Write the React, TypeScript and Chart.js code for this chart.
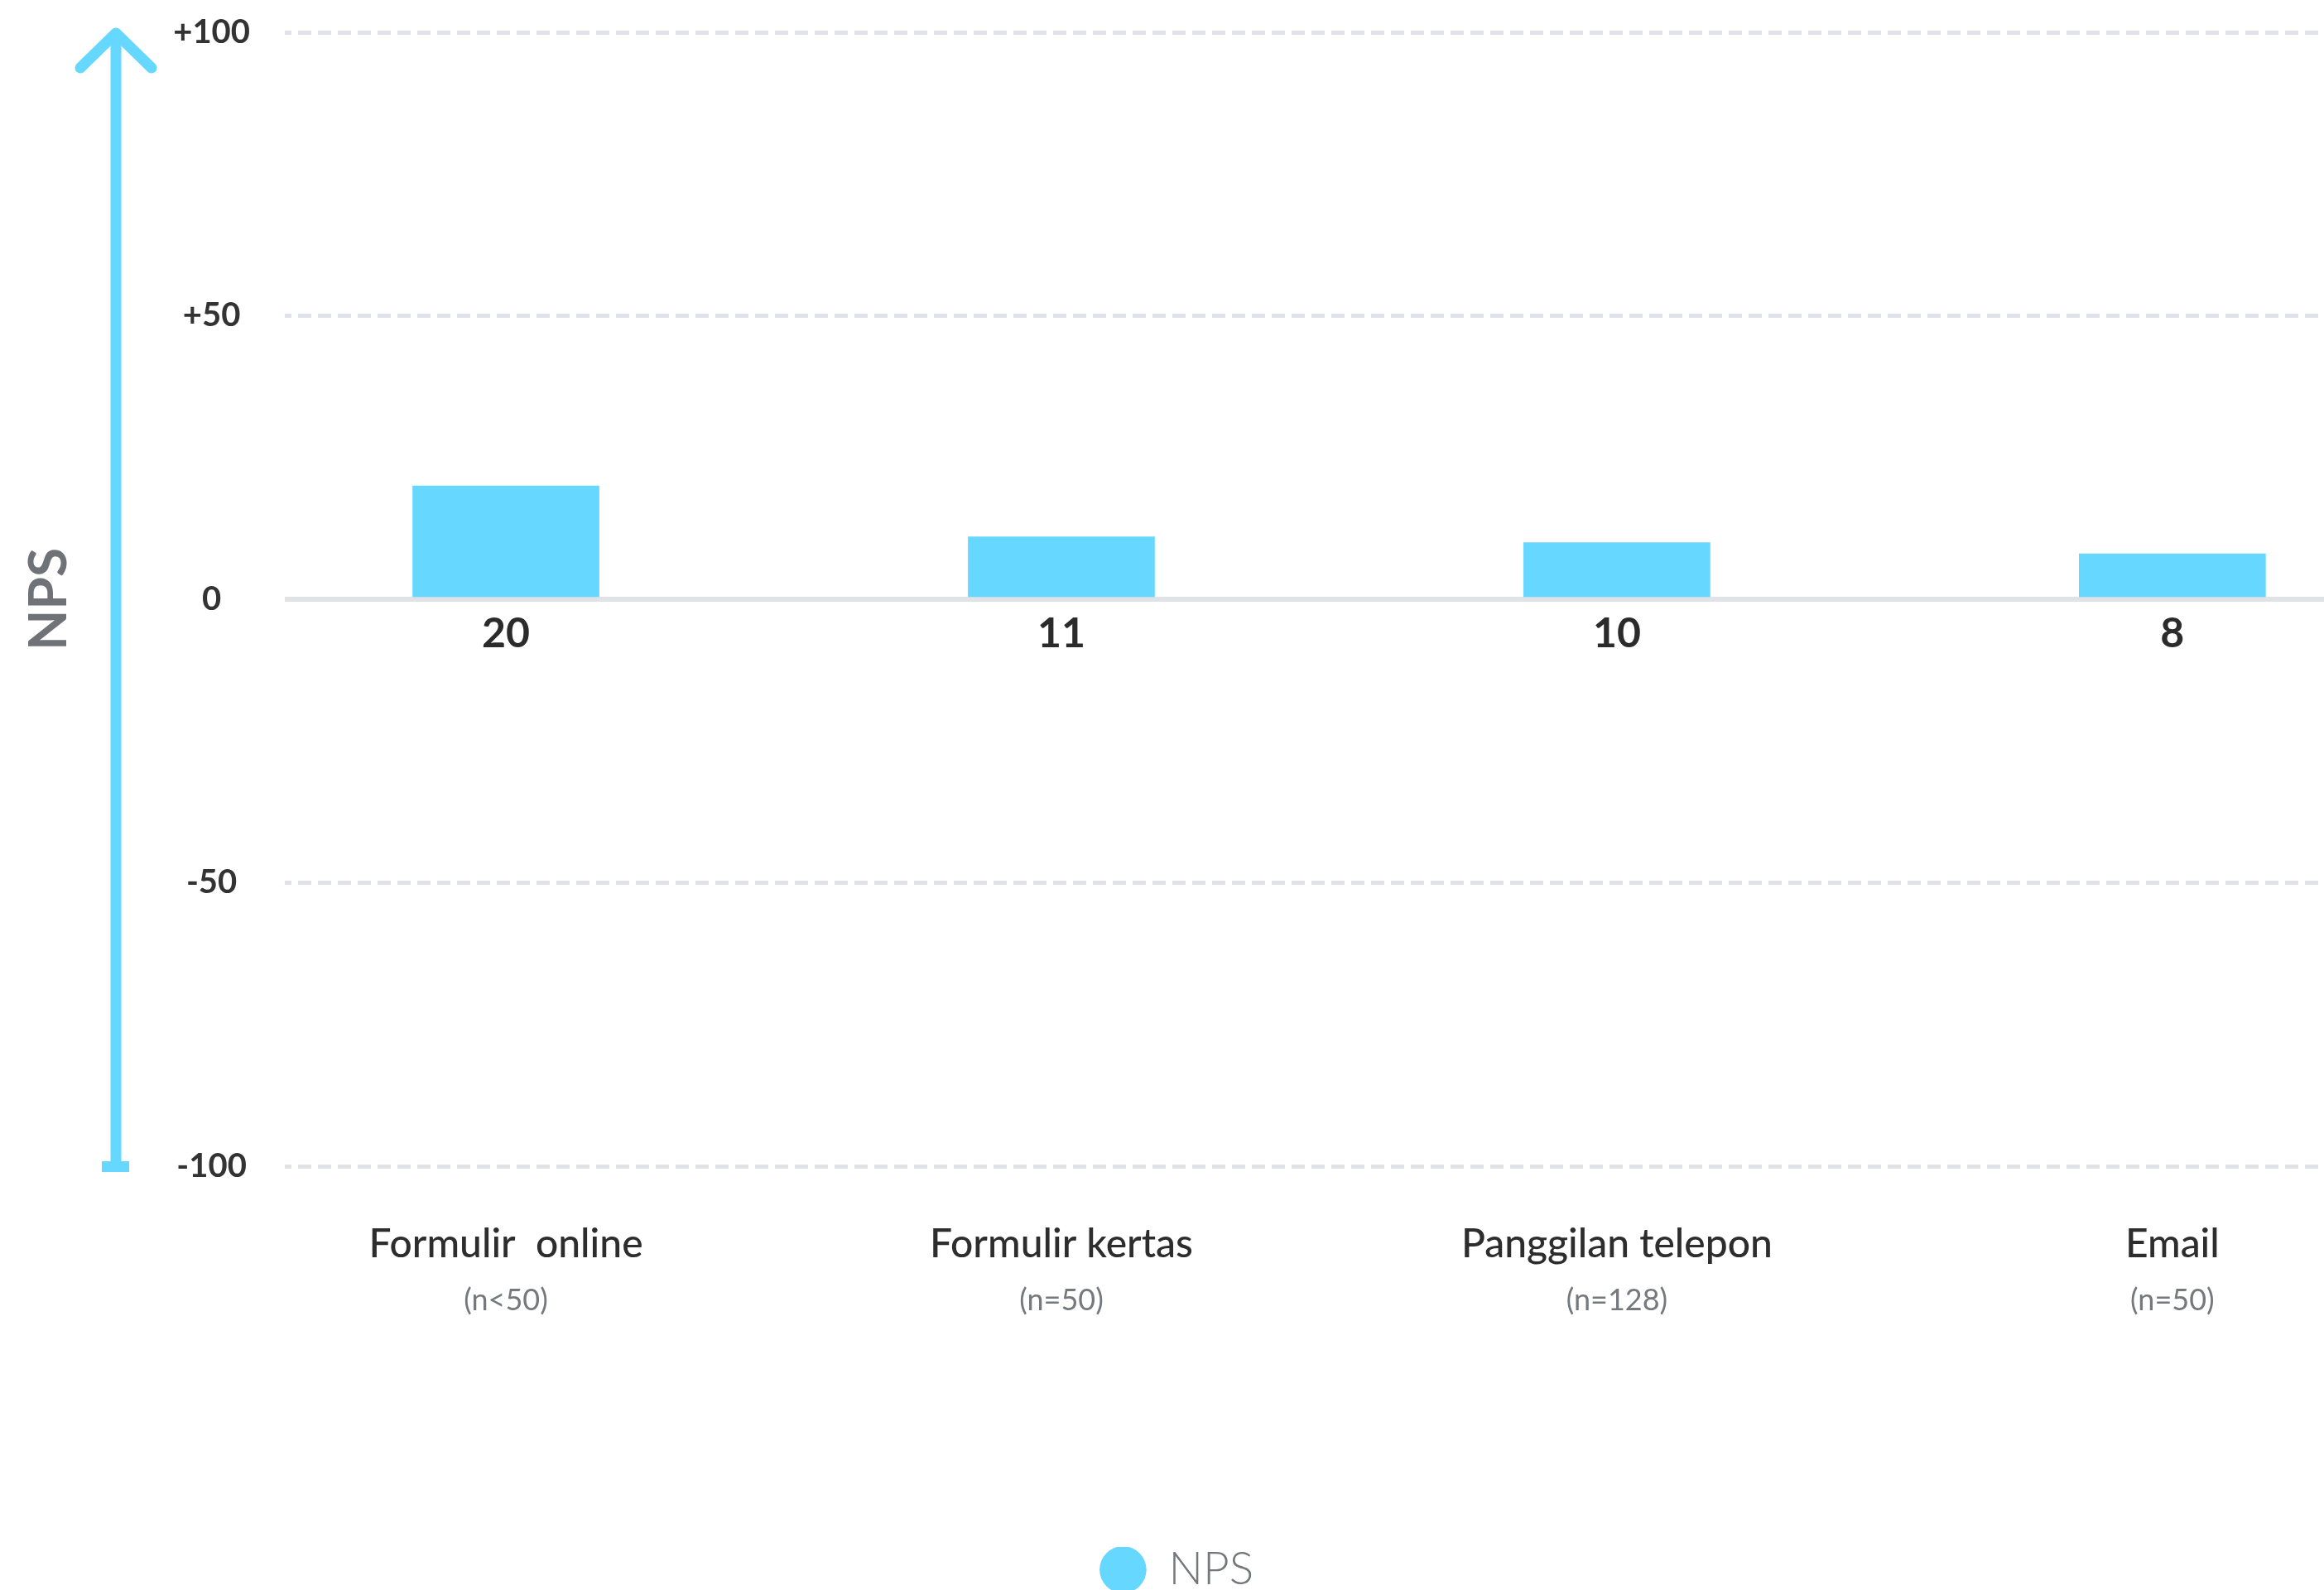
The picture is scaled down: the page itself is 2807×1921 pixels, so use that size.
import React, { useEffect, useRef } from "react";
import { Chart, registerables } from "chart.js";

Chart.register(...registerables);

// ---- Data ----
const CATEGORIES = ["Formulir  online", "Formulir kertas", "Panggilan telepon", "Email"];
const SAMPLE_SIZES = ["(n<50)", "(n=50)", "(n=128)", "(n=50)"];
const NPS_VALUES = [20, 11, 10, 8];
const Y_TICK_VALUES = [-100, -50, 0, 50, 100];
const Y_TICK_LABELS = ["-100", "-50", "0", "+50", "+100"];
const SERIES_LABEL = "NPS";

const BAR_COLOR = "#66d7ff";
const GRID_COLOR = "#dfe2e7";
const FONT = "Lato";

const arrowPlugin = {
  id: "npsArrow",
  beforeDatasetsDraw(chart: any) {
    const { ctx, chartArea } = chart;
    const yS = chart.scales.y;
    const top = yS.getPixelForValue(100);
    const bot = yS.getPixelForValue(-100);
    const ax = chartArea.left - 204;
    ctx.save();
    ctx.strokeStyle = BAR_COLOR;
    ctx.fillStyle = BAR_COLOR;
    ctx.lineWidth = 13;
    ctx.lineCap = "butt";
    ctx.beginPath();
    ctx.moveTo(ax, bot - 5);
    ctx.lineTo(ax, top + 4);
    ctx.stroke();
    ctx.lineCap = "round";
    ctx.lineJoin = "round";
    ctx.beginPath();
    ctx.moveTo(ax - 43, top + 43);
    ctx.lineTo(ax, top + 1);
    ctx.lineTo(ax + 43, top + 43);
    ctx.stroke();
    ctx.fillRect(ax - 17, bot - 6, 33, 13);
    ctx.restore();
  },
};

const valueLabelPlugin = {
  id: "valueLabels",
  afterDatasetsDraw(chart: any) {
    const { ctx } = chart;
    const yS = chart.scales.y;
    const zero = yS.getPixelForValue(0);
    const meta = chart.getDatasetMeta(0);
    const data = chart.data.datasets[0].data;
    ctx.save();
    ctx.font = `bold 50px ${FONT}`;
    ctx.fillStyle = "#2b2b2b";
    ctx.textAlign = "center";
    ctx.textBaseline = "alphabetic";
    meta.data.forEach((el: any, i: number) => {
      ctx.fillText(String(data[i].y), el.x, zero + 58);
    });
    ctx.restore();
  },
};

const X_MIN = -0.398;
const X_MAX = 3.273;

export default function App() {
  const ref = useRef<HTMLCanvasElement | null>(null);

  useEffect(() => {
    if (!ref.current) return;
    const tickSet = (s: any) => {
      s.ticks = CATEGORIES.map((_, i) => ({ value: i }));
    };
    const chart = new Chart(ref.current, {
      type: "bar",
      data: {
        datasets: [
          {
            label: SERIES_LABEL,
            data: NPS_VALUES.map((v, i) => ({ x: i, y: v })),
            backgroundColor: BAR_COLOR,
            borderWidth: 0,
            barThickness: 225,
          } as any,
        ],
      },
      options: {
        responsive: false,
        animation: false,
        devicePixelRatio: 1,
        layout: { padding: { top: 39, left: 36, right: 0, bottom: 0 } },
        plugins: {
          tooltip: { enabled: false },
          legend: {
            display: true,
            position: "bottom",
            labels: {
              usePointStyle: true,
              pointStyle: "circle",
              boxWidth: 55,
              boxHeight: 40,
              padding: 0,
              color: "#74777b",
              font: { family: FONT, size: 55, weight: "300" as any },
            },
          },
        },
        scales: {
          x: {
            type: "linear",
            position: "bottom",
            offset: false,
            weight: 0,
            min: X_MIN,
            max: X_MAX,
            afterBuildTicks: tickSet,
            afterFit: (s: any) => {
              s.height = 124;
            },
            grid: { display: false, drawTicks: false, offset: false },
            border: { display: false },
            ticks: {
              autoSkip: false,
              maxRotation: 0,
              minRotation: 0,
              padding: 66,
              color: "#2d2d2d",
              font: { family: FONT, size: 48, weight: "500" as any },
              callback: (v: any) => (Number.isInteger(v) ? CATEGORIES[v] : ""),
            },
          },
          xn: {
            type: "linear",
            axis: "x",
            position: "bottom",
            offset: false,
            weight: 1,
            min: X_MIN,
            max: X_MAX,
            afterBuildTicks: tickSet,
            afterFit: (s: any) => {
              s.height = 336;
            },
            grid: { display: false, drawTicks: false, offset: false },
            border: { display: false },
            ticks: {
              autoSkip: false,
              maxRotation: 0,
              minRotation: 0,
              padding: 17,
              color: "#75797e",
              font: { family: FONT, size: 36 },
              callback: (v: any) => (Number.isInteger(v) ? SAMPLE_SIZES[v] : ""),
            },
          } as any,
          y: {
            type: "linear",
            min: -100,
            max: 100,
            afterBuildTicks: (s: any) => {
              s.ticks = Y_TICK_VALUES.map((v) => ({ value: v }));
            },
            afterFit: (s: any) => {
              s.width = 308;
            },
            grid: {
              drawTicks: true,
              tickLength: 42,
              tickColor: "rgba(0,0,0,0)",
              color: GRID_COLOR,
              lineWidth: (c: any) => (c.tick && c.tick.value === 0 ? 6 : 5),
            },
            border: {
              display: false,
              dash: (c: any) => (c.tick && c.tick.value === 0 ? [] : [16, 8]),
              dashOffset: 8,
            },
            title: {
              display: true,
              text: SERIES_LABEL,
              color: "#6f7378",
              padding: 0,
              font: { family: FONT, size: 64, weight: "bold", lineHeight: 0.72 },
            },
            ticks: {
              crossAlign: "center",
              padding: 0,
              color: "#333333",
              font: { family: FONT, size: 40, weight: "bold" },
              callback: (v: any) => {
                const idx = Y_TICK_VALUES.indexOf(v);
                return idx >= 0 ? Y_TICK_LABELS[idx] : "";
              },
            },
          },
        },
      } as any,
      plugins: [arrowPlugin, valueLabelPlugin],
    });
    return () => chart.destroy();
  }, []);

  return (
    <div
      style={{
        position: "absolute",
        left: 0,
        top: 0,
        width: 2807,
        height: 1921,
        overflow: "hidden",
        background: "#ffffff",
      }}
    >
      <canvas ref={ref} width={2807} height={1934} style={{ display: "block" }} />
    </div>
  );
}
